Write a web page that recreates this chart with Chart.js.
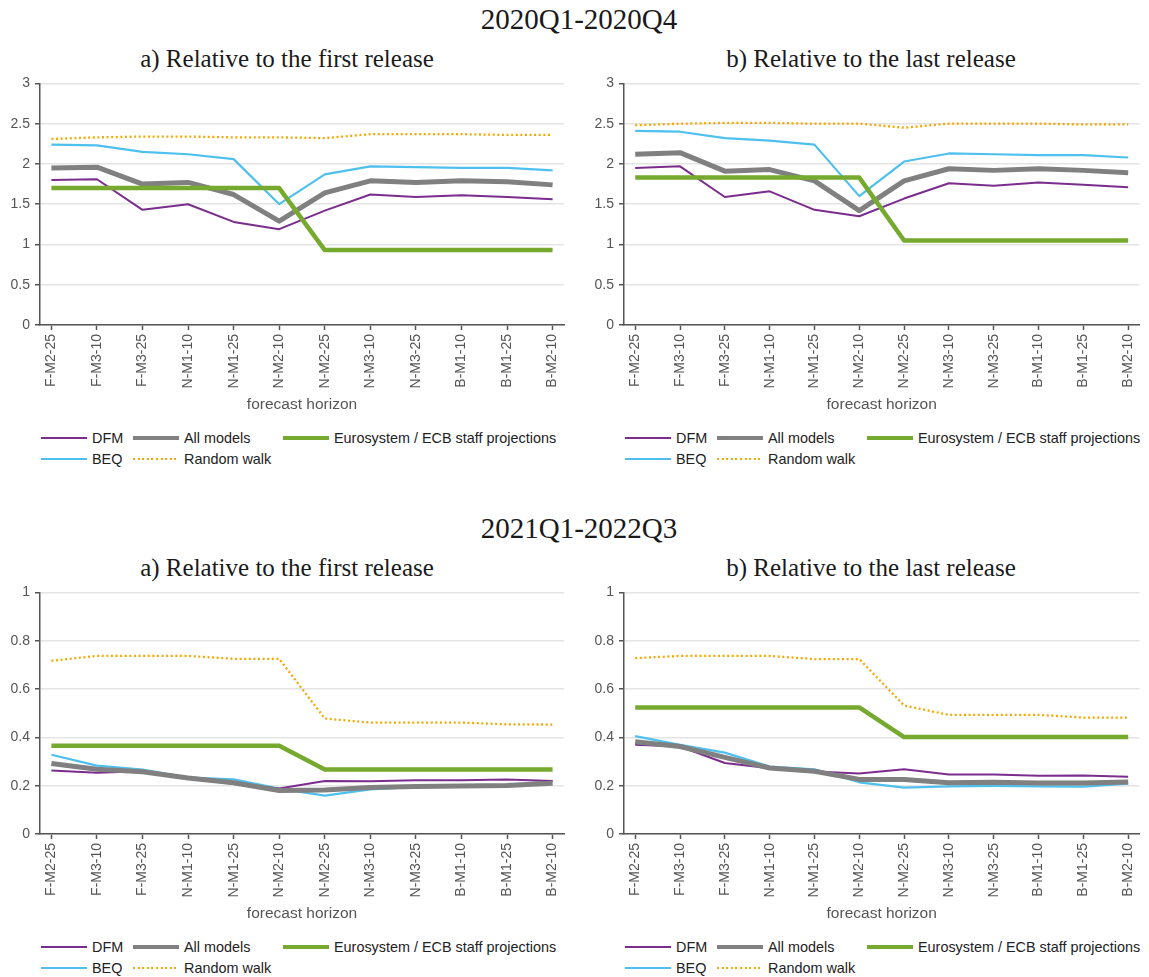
<!DOCTYPE html>
<html>
<head>
<meta charset="utf-8">
<script src="https://cdn.jsdelivr.net/npm/chart.js@4.4.1/dist/chart.umd.min.js"></script>
<style>
  body { margin: 0; background: #fff; overflow: hidden; }
  #page { position: relative; width: 1149px; height: 977px; }
  .ctr { position: absolute; transform: translateX(-50%); white-space: nowrap; font-family: 'Liberation Serif', 'Times New Roman', serif; color: #1a1a1a; }
  .big { font-size: 29px; line-height: 29px; }
  .sub { font-size: 25px; line-height: 25px; }
  .box { position: absolute; }
  .legend { position: absolute; display: grid; grid-template-columns: 92px 150px auto; grid-template-rows: 20.7px 20.7px; grid-auto-flow: column;
            font-family: 'Liberation Sans', Arial, sans-serif; font-size: 14.4px; color: #222; }
  .legend div { display: flex; align-items: center; white-space: nowrap; }
  .sw { display: inline-block; width: 46px; margin-right: 5px; }
</style>
</head>
<body>
<div id="page">
  <div class="ctr big" style="left:579px; top:5px">2020Q1-2020Q4</div>
  <div class="ctr sub" style="left:287px; top:46px">a) Relative to the first release</div>
  <div class="ctr sub" style="left:871px; top:46px">b) Relative to the last release</div>
  <div class="ctr big" style="left:579px; top:514px">2021Q1-2022Q3</div>
  <div class="ctr sub" style="left:287px; top:555px">a) Relative to the first release</div>
  <div class="ctr sub" style="left:871px; top:555px">b) Relative to the last release</div>
</div>
<script>
// forecast horizons
const cats = ['F-M2-25', 'F-M3-10', 'F-M3-25', 'N-M1-10', 'N-M1-25', 'N-M2-10',
              'N-M2-25', 'N-M3-10', 'N-M3-25', 'B-M1-10', 'B-M1-25', 'B-M2-10'];

// 2020Q1-2020Q4, relative to the first release
const dfm20First = [1.80, 1.81, 1.43, 1.50, 1.28, 1.19, 1.42, 1.62, 1.59, 1.61, 1.59, 1.56];
const beq20First = [2.24, 2.23, 2.15, 2.12, 2.06, 1.50, 1.87, 1.97, 1.96, 1.95, 1.95, 1.92];
const all20First = [1.95, 1.96, 1.75, 1.77, 1.62, 1.29, 1.64, 1.79, 1.77, 1.79, 1.78, 1.74];
const rw20First  = [2.31, 2.33, 2.34, 2.34, 2.33, 2.33, 2.32, 2.37, 2.37, 2.37, 2.36, 2.36];
const ecb20First = [1.70, 1.70, 1.70, 1.70, 1.70, 1.70, 0.93, 0.93, 0.93, 0.93, 0.93, 0.93];

// 2020Q1-2020Q4, relative to the last release
const dfm20Last = [1.95, 1.97, 1.59, 1.66, 1.43, 1.35, 1.57, 1.76, 1.73, 1.77, 1.74, 1.71];
const beq20Last = [2.41, 2.40, 2.32, 2.29, 2.24, 1.60, 2.03, 2.13, 2.12, 2.11, 2.11, 2.08];
const all20Last = [2.12, 2.14, 1.91, 1.93, 1.79, 1.42, 1.79, 1.94, 1.92, 1.94, 1.92, 1.89];
const rw20Last  = [2.48, 2.50, 2.51, 2.51, 2.50, 2.50, 2.45, 2.50, 2.50, 2.50, 2.49, 2.49];
const ecb20Last = [1.83, 1.83, 1.83, 1.83, 1.83, 1.83, 1.05, 1.05, 1.05, 1.05, 1.05, 1.05];

// 2021Q1-2022Q3, relative to the first release
const dfm21First = [0.263, 0.254, 0.260, 0.234, 0.207, 0.188, 0.219, 0.218, 0.222, 0.222, 0.226, 0.219];
const beq21First = [0.328, 0.283, 0.267, 0.233, 0.226, 0.188, 0.159, 0.185, 0.195, 0.197, 0.203, 0.218];
const all21First = [0.292, 0.268, 0.258, 0.232, 0.212, 0.180, 0.182, 0.192, 0.197, 0.199, 0.201, 0.210];
const rw21First  = [0.717, 0.737, 0.737, 0.737, 0.725, 0.725, 0.478, 0.461, 0.461, 0.461, 0.454, 0.453];
const ecb21First = [0.365, 0.365, 0.365, 0.365, 0.365, 0.365, 0.267, 0.267, 0.267, 0.267, 0.267, 0.267];

// 2021Q1-2022Q3, relative to the last release
const dfm21Last = [0.369, 0.362, 0.294, 0.272, 0.259, 0.250, 0.268, 0.246, 0.246, 0.241, 0.242, 0.237];
const beq21Last = [0.405, 0.369, 0.337, 0.279, 0.268, 0.214, 0.192, 0.197, 0.199, 0.197, 0.196, 0.208];
const all21Last = [0.382, 0.362, 0.317, 0.273, 0.260, 0.226, 0.226, 0.212, 0.214, 0.211, 0.211, 0.215];
const rw21Last  = [0.728, 0.737, 0.737, 0.737, 0.724, 0.724, 0.532, 0.493, 0.493, 0.493, 0.482, 0.482];
const ecb21Last = [0.524, 0.524, 0.524, 0.524, 0.524, 0.524, 0.401, 0.401, 0.401, 0.401, 0.401, 0.401];

// line styles (legend order: column by column)
const series = [
  {key: 'dfm', label: 'DFM', color: '#7b2d8e', width: 2, order: 2},
  {key: 'beq', label: 'BEQ', color: '#4ec0ee', width: 2.2, order: 3},
  {key: 'all', label: 'All models', color: '#808080', width: 5, order: 1},
  {key: 'rw', label: 'Random walk', color: '#f5a800', width: 2.3, dash: [2, 2.6], order: 4},
  {key: 'ecb', label: 'Eurosystem / ECB staff projections', color: '#76aa2f', width: 4.5, order: 0}
];

const panels = [
  {left: 0, top: 70, width: 575, padRight: 11, yMax: 3, yStep: 0.5,
   values: {dfm: dfm20First, beq: beq20First, all: all20First, rw: rw20First, ecb: ecb20First}},
  {left: 584, top: 70, width: 565, padRight: 1, yMax: 3, yStep: 0.5,
   values: {dfm: dfm20Last, beq: beq20Last, all: all20Last, rw: rw20Last, ecb: ecb20Last}},
  {left: 0, top: 579, width: 575, padRight: 11, yMax: 1, yStep: 0.2,
   values: {dfm: dfm21First, beq: beq21First, all: all21First, rw: rw21First, ecb: ecb21First}},
  {left: 584, top: 579, width: 565, padRight: 1, yMax: 1, yStep: 0.2,
   values: {dfm: dfm21Last, beq: beq21Last, all: all21Last, rw: rw21Last, ecb: ecb21Last}}
];

const axisColor = '#555';
const sans = "'Liberation Sans', Arial, sans-serif";
const page = document.getElementById('page');

panels.forEach(function(p) {
  var box = document.createElement('div');
  box.className = 'box';
  box.style.left = p.left + 'px';
  box.style.top = p.top + 'px';
  var canvas = document.createElement('canvas');
  canvas.width = p.width;
  canvas.height = 344;
  box.appendChild(canvas);
  page.appendChild(box);

  var datasets = series.map(function(s) {
    return {
      label: s.label,
      data: p.values[s.key].map(function(v, i) { return {x: i, y: v}; }),
      borderColor: s.color,
      backgroundColor: s.color,
      borderWidth: s.width,
      borderDash: s.dash || [],
      borderCapStyle: 'butt',
      borderJoinStyle: 'round',
      pointRadius: 0,
      fill: false,
      tension: 0,
      order: s.order
    };
  });

  new Chart(canvas, {
    type: 'line',
    data: {datasets: datasets},
    options: {
      responsive: false,
      animation: false,
      layout: {padding: {top: 10, right: p.padRight, left: 0, bottom: 0}},
      plugins: {legend: {display: false}, tooltip: {enabled: false}},
      scales: {
        x: {
          type: 'linear',
          min: -0.25,
          max: cats.length - 0.75,
          afterBuildTicks: function(s) { s.ticks = cats.map(function(c, i) { return {value: i}; }); },
          afterFit: function(s) { s.height = 89; },
          grid: {drawOnChartArea: false, tickLength: 5, tickColor: axisColor, tickWidth: 1.5},
          border: {color: axisColor, width: 1.5},
          ticks: {
            autoSkip: false, minRotation: 90, maxRotation: 90, padding: 4,
            color: '#555', font: {family: sans, size: 14},
            callback: function(v) { return cats[v]; }
          },
          title: {display: true, text: 'forecast horizon', color: '#555',
                  font: {family: sans, size: 15.5}, padding: 0}
        },
        y: {
          min: 0,
          max: p.yMax,
          afterFit: function(s) { s.width = 40; },
          grid: {color: '#e4e4e4', lineWidth: 1.5, tickLength: 5, tickColor: axisColor, tickWidth: 1.5},
          border: {color: axisColor, width: 1.5},
          ticks: {
            stepSize: p.yStep, padding: 5, color: '#555', font: {family: sans, size: 14},
            callback: function(v) { return String(+v.toFixed(2)); }
          }
        }
      }
    }
  });

  // legend laid out in columns like the original
  var leg = document.createElement('div');
  leg.className = 'legend';
  leg.style.left = (p.left + 41) + 'px';
  leg.style.top = (p.top + 358) + 'px';
  series.forEach(function(s) {
    var item = document.createElement('div');
    var sw = document.createElement('span');
    sw.className = 'sw';
    sw.style.height = Math.max(2, Math.round(s.width * 0.85)) + 'px';
    if (s.dash) {
      sw.style.background = 'repeating-linear-gradient(90deg, ' + s.color + ' 0 2px, transparent 2px 4.6px)';
    } else {
      sw.style.background = s.color;
    }
    item.appendChild(sw);
    item.appendChild(document.createTextNode(s.label));
    leg.appendChild(item);
  });
  page.appendChild(leg);
});
</script>
</body>
</html>
